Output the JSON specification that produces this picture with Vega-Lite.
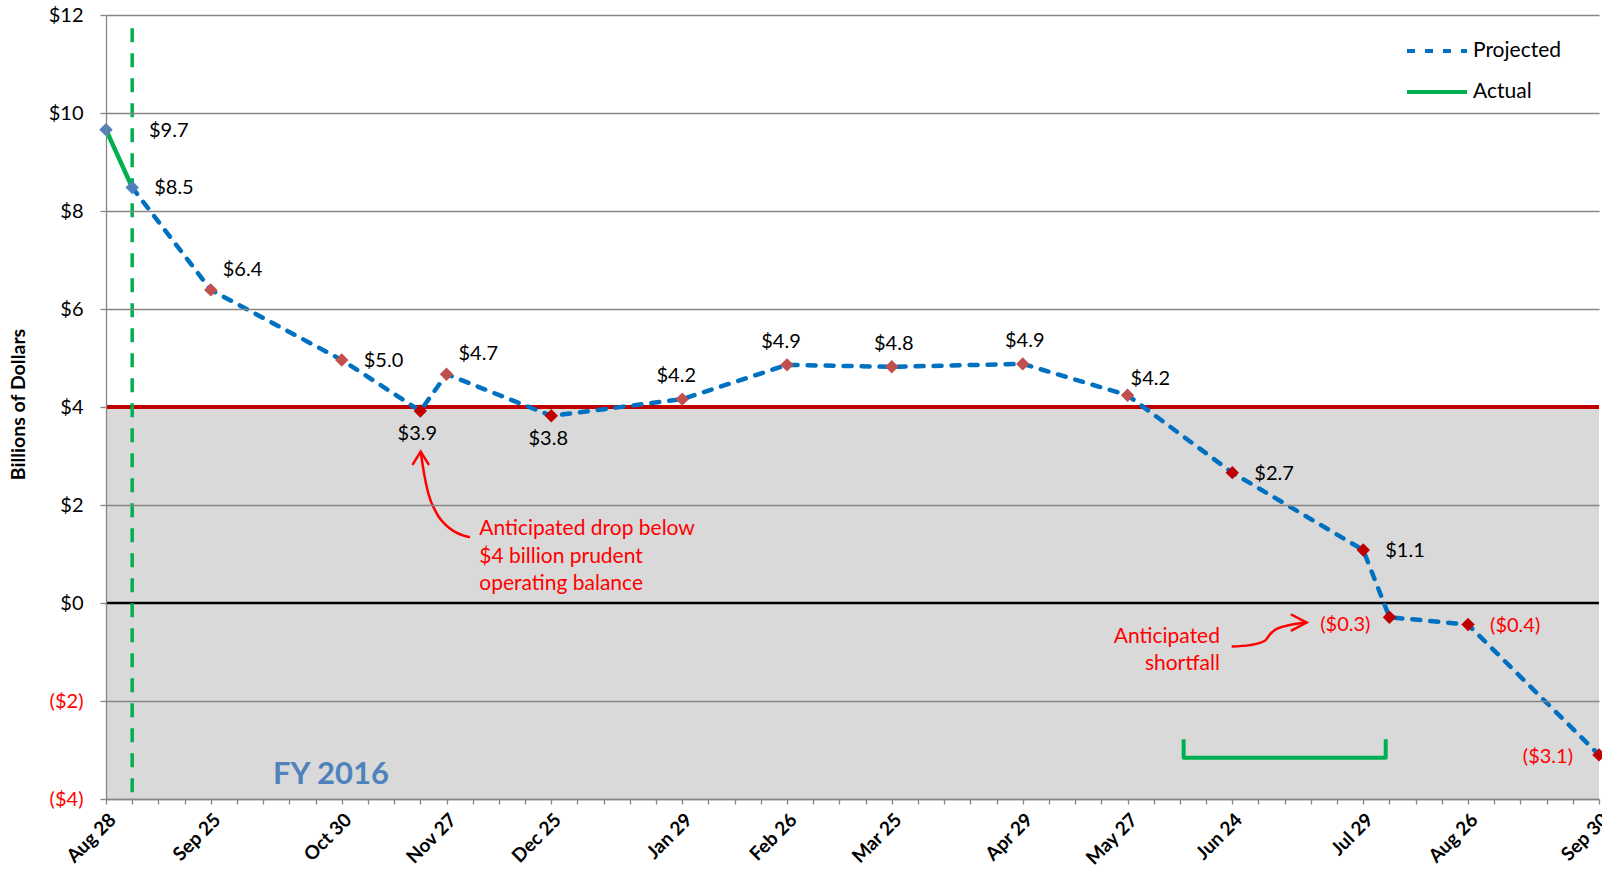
{
  "$schema": "https://vega.github.io/schema/vega-lite/v6.json",
  "width": 1493,
  "height": 784,
  "autosize": {"type": "none"},
  "padding": {"left": 106, "top": 15, "right": 3, "bottom": 72},
  "background": "white",
  "config": {"view": {"stroke": null}, "font": "Lato"},
  "datasets": {
    "points": [
      {"date": "2015-08-28", "v": 9.66},
      {"date": "2015-09-04", "v": 8.48},
      {"date": "2015-09-25", "v": 6.39},
      {"date": "2015-10-30", "v": 4.96},
      {"date": "2015-11-20", "v": 3.92},
      {"date": "2015-11-27", "v": 4.67},
      {"date": "2015-12-25", "v": 3.82},
      {"date": "2016-01-29", "v": 4.16},
      {"date": "2016-02-26", "v": 4.86},
      {"date": "2016-03-25", "v": 4.82},
      {"date": "2016-04-29", "v": 4.88},
      {"date": "2016-05-27", "v": 4.24},
      {"date": "2016-06-24", "v": 2.66},
      {"date": "2016-07-29", "v": 1.08},
      {"date": "2016-08-05", "v": -0.29},
      {"date": "2016-08-26", "v": -0.44},
      {"date": "2016-09-30", "v": -3.1}
    ],
    "lines": [
      {"date": "2015-08-28", "v": 9.66, "series": "Actual"},
      {"date": "2015-09-04", "v": 8.48, "series": "Actual"},
      {"date": "2015-09-04", "v": 8.48, "series": "Projected"},
      {"date": "2015-09-25", "v": 6.39, "series": "Projected"},
      {"date": "2015-10-30", "v": 4.96, "series": "Projected"},
      {"date": "2015-11-20", "v": 3.92, "series": "Projected"},
      {"date": "2015-11-27", "v": 4.67, "series": "Projected"},
      {"date": "2015-12-25", "v": 3.82, "series": "Projected"},
      {"date": "2016-01-29", "v": 4.16, "series": "Projected"},
      {"date": "2016-02-26", "v": 4.86, "series": "Projected"},
      {"date": "2016-03-25", "v": 4.82, "series": "Projected"},
      {"date": "2016-04-29", "v": 4.88, "series": "Projected"},
      {"date": "2016-05-27", "v": 4.24, "series": "Projected"},
      {"date": "2016-06-24", "v": 2.66, "series": "Projected"},
      {"date": "2016-07-29", "v": 1.08, "series": "Projected"},
      {"date": "2016-08-05", "v": -0.29, "series": "Projected"},
      {"date": "2016-08-26", "v": -0.44, "series": "Projected"},
      {"date": "2016-09-30", "v": -3.1, "series": "Projected"}
    ],
    "bracket": [
      {"date": "2016-06-11", "v": -2.78, "k": 1},
      {"date": "2016-06-11", "v": -3.16, "k": 2},
      {"date": "2016-08-04", "v": -3.16, "k": 3},
      {"date": "2016-08-04", "v": -2.78, "k": 4}
    ],
    "arrow1": [
      {"date": "2015-11-20T02:24:00Z", "v": 3.09},
      {"date": "2015-11-20T23:30:00Z", "v": 2.65},
      {"date": "2015-11-22T03:00:00Z", "v": 2.24},
      {"date": "2015-11-24T09:00:00Z", "v": 1.83},
      {"date": "2015-11-27T22:20:00Z", "v": 1.52},
      {"date": "2015-12-03T06:30:00Z", "v": 1.34}
    ],
    "arrow2": [
      {"date": "2016-06-23T20:00:00Z", "v": -0.89},
      {"date": "2016-06-28T17:00:00Z", "v": -0.86},
      {"date": "2016-07-02T17:30:00Z", "v": -0.77},
      {"date": "2016-07-04T01:30:00Z", "v": -0.64},
      {"date": "2016-07-05T09:30:00Z", "v": -0.55},
      {"date": "2016-07-09T09:30:00Z", "v": -0.45},
      {"date": "2016-07-13T21:00:00Z", "v": -0.40}
    ]
  },
  "layer": [
    {
      "data": {"values": [{}]},
      "mark": {"type": "rect", "color": "#D9D9D9"},
      "encoding": {
        "y": {"datum": 4, "type": "quantitative", "scale": {"domain": [-4, 12], "nice": false, "zero": false}},
        "y2": {"datum": -4}
      }
    },
    {
      "data": {"values": [{}]},
      "mark": {"type": "rule", "color": "#C00000", "strokeWidth": 4},
      "encoding": {
        "y": {"datum": 4, "type": "quantitative", "scale": {"domain": [-4, 12], "nice": false, "zero": false}}
      }
    },
    {
      "data": {"values": [{}]},
      "mark": {"type": "rule", "color": "black", "strokeWidth": 2.5},
      "encoding": {
        "y": {"datum": 0, "type": "quantitative", "scale": {"domain": [-4, 12], "nice": false, "zero": false}}
      }
    },
    {
      "data": {"values": [{}]},
      "mark": {"type": "rule", "color": "#00B050", "strokeWidth": 3.5, "strokeDash": [14, 11]},
      "encoding": {
        "x": {"datum": {"year": 2015, "month": 9, "date": 4, "utc": true}, "type": "temporal", "scale": {"type": "utc", "domain": [1440720000000, 1475193600000], "nice": false}},
        "y": {"datum": 11.73, "type": "quantitative", "scale": {"domain": [-4, 12], "nice": false, "zero": false}},
        "y2": {"datum": -3.88}
      }
    },
    {
      "data": {"name": "bracket"},
      "mark": {"type": "line", "color": "#00B050", "strokeWidth": 4, "strokeJoin": "round"},
      "encoding": {
        "x": {"field": "date", "type": "temporal", "scale": {"type": "utc", "domain": [1440720000000, 1475193600000], "nice": false}},
        "y": {"field": "v", "type": "quantitative", "scale": {"domain": [-4, 12], "nice": false, "zero": false}},
        "order": {"field": "k"}
      }
    },
    {
      "data": {"name": "arrow1"},
      "mark": {"type": "line", "color": "#FF0000", "strokeWidth": 2.5, "interpolate": "monotone"},
      "encoding": {
        "x": {"field": "date", "type": "temporal", "scale": {"type": "utc", "domain": [1440720000000, 1475193600000], "nice": false}},
        "y": {"field": "v", "type": "quantitative", "scale": {"domain": [-4, 12], "nice": false, "zero": false}}
      }
    },
    {
      "data": {"values": [{}]},
      "mark": {"type": "point", "shape": "M-1,1.6L0,0L1,1.6", "filled": false, "size": 243, "color": "#FF0000", "strokeWidth": 2.5, "opacity": 1, "strokeCap": "round"},
      "encoding": {
        "x": {"datum": {"year": 2015, "month": 11, "date": 20, "hours": 2, "minutes": 24, "utc": true}, "type": "temporal", "scale": {"type": "utc", "domain": [1440720000000, 1475193600000], "nice": false}},
        "y": {"datum": 3.09, "type": "quantitative", "scale": {"domain": [-4, 12], "nice": false, "zero": false}}
      }
    },
    {
      "data": {"name": "arrow2"},
      "mark": {"type": "line", "color": "#FF0000", "strokeWidth": 2.5, "interpolate": "monotone"},
      "encoding": {
        "x": {"field": "date", "type": "temporal", "scale": {"type": "utc", "domain": [1440720000000, 1475193600000], "nice": false}},
        "y": {"field": "v", "type": "quantitative", "scale": {"domain": [-4, 12], "nice": false, "zero": false}}
      }
    },
    {
      "data": {"values": [{}]},
      "mark": {"type": "point", "shape": "M-1.9,-1L0,0L-1.9,1", "filled": false, "size": 246, "color": "#FF0000", "strokeWidth": 2.5, "opacity": 1, "strokeCap": "round"},
      "encoding": {
        "x": {"datum": {"year": 2016, "month": 7, "date": 13, "hours": 21, "utc": true}, "type": "temporal", "scale": {"type": "utc", "domain": [1440720000000, 1475193600000], "nice": false}},
        "y": {"datum": -0.40, "type": "quantitative", "scale": {"domain": [-4, 12], "nice": false, "zero": false}}
      }
    },
    {
      "data": {"name": "lines"},
      "mark": {"type": "line", "strokeWidth": 4.5, "strokeCap": "round"},
      "encoding": {
        "x": {"field": "date", "type": "temporal", "scale": {"type": "utc", "domain": [1440720000000, 1475193600000], "nice": false}},
        "y": {"field": "v", "type": "quantitative", "scale": {"domain": [-4, 12], "nice": false, "zero": false}},
        "stroke": {
          "field": "series", "type": "nominal",
          "scale": {"domain": ["Projected", "Actual"], "range": ["#0070C0", "#00B050"]},
          "legend": {"title": null, "orient": "none", "legendX": 1314, "legendY": 19, "symbolType": "M-2,0L2,0", "symbolSize": 900, "symbolStrokeWidth": 4, "labelFont": "Lato", "labelFontSize": 21, "labelColor": "black", "labelOffset": 19, "rowPadding": 14, "padding": 0}
        },
        "strokeDash": {
          "field": "series", "type": "nominal",
          "scale": {"domain": ["Projected", "Actual"], "range": [[8, 10], [1, 0]]},
          "legend": {"title": null, "orient": "none", "legendX": 1314, "legendY": 19, "symbolType": "M-2,0L2,0", "symbolSize": 900, "symbolStrokeWidth": 4, "labelFont": "Lato", "labelFontSize": 21, "labelColor": "black", "labelOffset": 19, "rowPadding": 14, "padding": 0}
        }
      }
    },
    {
      "data": {"name": "points"},
      "mark": {"type": "point", "shape": "diamond", "filled": true, "size": 180, "opacity": 1},
      "encoding": {
        "x": {
          "field": "date", "type": "temporal",
          "scale": {"type": "utc", "domain": [1440720000000, 1475193600000], "nice": false},
          "axis": {
            "values": [1440720000000, 1441324800000, 1441929600000, 1442534400000, 1443139200000, 1443744000000, 1444348800000, 1444953600000, 1445558400000, 1446163200000, 1446768000000, 1447372800000, 1447977600000, 1448582400000, 1449187200000, 1449792000000, 1450396800000, 1451001600000, 1451606400000, 1452211200000, 1452816000000, 1453420800000, 1454025600000, 1454630400000, 1455235200000, 1455840000000, 1456444800000, 1457049600000, 1457654400000, 1458259200000, 1458864000000, 1459468800000, 1460073600000, 1460678400000, 1461283200000, 1461888000000, 1462492800000, 1463097600000, 1463702400000, 1464307200000, 1464912000000, 1465516800000, 1466121600000, 1466726400000, 1467331200000, 1467936000000, 1468540800000, 1469145600000, 1469750400000, 1470355200000, 1470960000000, 1471564800000, 1472169600000, 1472774400000, 1473379200000, 1473984000000, 1474588800000, 1475193600000],
            "tickCount": 200,
            "labelExpr": "utcmonth(time(datum.value) + 604800000) !== utcmonth(time(datum.value)) ? utcFormat(datum.value, '%b %d') : ''",
            "labelAngle": -45, "labelAlign": "right", "labelBaseline": "top",
            "labelFont": "Lato", "labelFontSize": 19, "labelFontWeight": "bold", "labelColor": "black",
            "labelPadding": 6, "labelDx": 3, "labelOverlap": false, "labelBound": false, "labelFlush": false,
            "tickSize": 5, "tickColor": "#868686", "tickWidth": 1.3,
            "domainColor": "#868686", "domainWidth": 1.3,
            "grid": false, "title": null, "zindex": 1
          }
        },
        "y": {
          "field": "v", "type": "quantitative",
          "scale": {"domain": [-4, 12], "nice": false, "zero": false},
          "axis": {
            "values": [-4, -2, 0, 2, 4, 6, 8, 10, 12],
            "title": "Billions of Dollars",
            "titleFont": "Lato", "titleFontSize": 19.5, "titleFontWeight": "bold", "titleColor": "black",
            "titleX": -88, "titleY": 389, "titleAngle": 270, "titleAlign": "center", "titleBaseline": "middle",
            "labelExpr": "format(datum.value, '($.0f') + (datum.value >= 0 ? '\u2009' : '')",
            "labelColor": {"condition": {"test": "datum.value < 0", "value": "#FF0000"}, "value": "black"},
            "labelFont": "Lato", "labelFontSize": 20, "labelPadding": 17,
            "tickSize": 6, "tickColor": "#868686", "tickWidth": 1.3,
            "domainColor": "#868686", "domainWidth": 1.3,
            "grid": true, "gridColor": "#868686", "gridWidth": 1.3,
            "gridOpacity": {"condition": {"test": "datum.value === 0 || datum.value === 4", "value": 0}, "value": 1},
            "zindex": 1
          }
        },
        "color": {
          "condition": [
            {"test": "datum.v > 8", "value": "#4F81BD"},
            {"test": "datum.v >= 4", "value": "#C0504D"}
          ],
          "value": "#C00000"
        }
      }
    },
    {
      "data": {"name": "points"},
      "transform": [{"filter": "datum.v === 9.66"}],
      "mark": {"type": "text", "font": "Lato", "fontSize": 20, "align": "left", "baseline": "middle", "dx": 43, "dy": 1},
      "encoding": {
        "x": {"field": "date", "type": "temporal", "scale": {"type": "utc", "domain": [1440720000000, 1475193600000], "nice": false}},
        "y": {"field": "v", "type": "quantitative", "scale": {"domain": [-4, 12], "nice": false, "zero": false}},
        "text": {"field": "v", "type": "quantitative", "format": "($.1f"},
        "color": {"value": "black"}
      }
    },
    {
      "data": {"name": "points"},
      "transform": [{"filter": "indexof([8.48, 4.96, 2.66, 1.08, -0.44], datum.v) >= 0"}],
      "mark": {"type": "text", "font": "Lato", "fontSize": 20, "align": "left", "baseline": "middle", "dx": 22, "dy": 1},
      "encoding": {
        "x": {"field": "date", "type": "temporal", "scale": {"type": "utc", "domain": [1440720000000, 1475193600000], "nice": false}},
        "y": {"field": "v", "type": "quantitative", "scale": {"domain": [-4, 12], "nice": false, "zero": false}},
        "text": {"field": "v", "type": "quantitative", "format": "($.1f"},
        "color": {"condition": {"test": "datum.v < 0", "value": "#FF0000"}, "value": "black"}
      }
    },
    {
      "data": {"name": "points"},
      "transform": [{"filter": "indexof([6.39, 4.67], datum.v) >= 0"}],
      "mark": {"type": "text", "font": "Lato", "fontSize": 20, "align": "left", "baseline": "middle", "dx": 12, "dy": -20},
      "encoding": {
        "x": {"field": "date", "type": "temporal", "scale": {"type": "utc", "domain": [1440720000000, 1475193600000], "nice": false}},
        "y": {"field": "v", "type": "quantitative", "scale": {"domain": [-4, 12], "nice": false, "zero": false}},
        "text": {"field": "v", "type": "quantitative", "format": "($.1f"},
        "color": {"value": "black"}
      }
    },
    {
      "data": {"name": "points"},
      "transform": [{"filter": "datum.v === 4.24"}],
      "mark": {"type": "text", "font": "Lato", "fontSize": 20, "align": "left", "baseline": "middle", "dx": 3, "dy": -16},
      "encoding": {
        "x": {"field": "date", "type": "temporal", "scale": {"type": "utc", "domain": [1440720000000, 1475193600000], "nice": false}},
        "y": {"field": "v", "type": "quantitative", "scale": {"domain": [-4, 12], "nice": false, "zero": false}},
        "text": {"field": "v", "type": "quantitative", "format": "($.1f"},
        "color": {"value": "black"}
      }
    },
    {
      "data": {"name": "points"},
      "transform": [{"filter": "indexof([4.16, 4.86], datum.v) >= 0"}],
      "mark": {"type": "text", "font": "Lato", "fontSize": 20, "align": "center", "baseline": "middle", "dx": -6, "dy": -23},
      "encoding": {
        "x": {"field": "date", "type": "temporal", "scale": {"type": "utc", "domain": [1440720000000, 1475193600000], "nice": false}},
        "y": {"field": "v", "type": "quantitative", "scale": {"domain": [-4, 12], "nice": false, "zero": false}},
        "text": {"field": "v", "type": "quantitative", "format": "($.1f"},
        "color": {"value": "black"}
      }
    },
    {
      "data": {"name": "points"},
      "transform": [{"filter": "indexof([4.82, 4.88], datum.v) >= 0"}],
      "mark": {"type": "text", "font": "Lato", "fontSize": 20, "align": "center", "baseline": "middle", "dx": 2, "dy": -23},
      "encoding": {
        "x": {"field": "date", "type": "temporal", "scale": {"type": "utc", "domain": [1440720000000, 1475193600000], "nice": false}},
        "y": {"field": "v", "type": "quantitative", "scale": {"domain": [-4, 12], "nice": false, "zero": false}},
        "text": {"field": "v", "type": "quantitative", "format": "($.1f"},
        "color": {"value": "black"}
      }
    },
    {
      "data": {"name": "points"},
      "transform": [{"filter": "indexof([3.92, 3.82], datum.v) >= 0"}],
      "mark": {"type": "text", "font": "Lato", "fontSize": 20, "align": "center", "baseline": "middle", "dx": -3, "dy": 23},
      "encoding": {
        "x": {"field": "date", "type": "temporal", "scale": {"type": "utc", "domain": [1440720000000, 1475193600000], "nice": false}},
        "y": {"field": "v", "type": "quantitative", "scale": {"domain": [-4, 12], "nice": false, "zero": false}},
        "text": {"field": "v", "type": "quantitative", "format": "($.1f"},
        "color": {"value": "black"}
      }
    },
    {
      "data": {"name": "points"},
      "transform": [{"filter": "datum.v === -0.29"}],
      "mark": {"type": "text", "font": "Lato", "fontSize": 20, "align": "right", "baseline": "middle", "dx": -19, "dy": 8},
      "encoding": {
        "x": {"field": "date", "type": "temporal", "scale": {"type": "utc", "domain": [1440720000000, 1475193600000], "nice": false}},
        "y": {"field": "v", "type": "quantitative", "scale": {"domain": [-4, 12], "nice": false, "zero": false}},
        "text": {"field": "v", "type": "quantitative", "format": "($.1f"},
        "color": {"value": "#FF0000"}
      }
    },
    {
      "data": {"name": "points"},
      "transform": [{"filter": "datum.v === -3.1"}],
      "mark": {"type": "text", "font": "Lato", "fontSize": 20, "align": "right", "baseline": "middle", "dx": -26, "dy": 2},
      "encoding": {
        "x": {"field": "date", "type": "temporal", "scale": {"type": "utc", "domain": [1440720000000, 1475193600000], "nice": false}},
        "y": {"field": "v", "type": "quantitative", "scale": {"domain": [-4, 12], "nice": false, "zero": false}},
        "text": {"field": "v", "type": "quantitative", "format": "($.1f"},
        "color": {"value": "#FF0000"}
      }
    },
    {
      "data": {"values": [{}]},
      "mark": {"type": "text", "font": "Lato", "fontSize": 31, "fontWeight": "bold", "color": "#4F81BD", "align": "center", "baseline": "alphabetic"},
      "encoding": {
        "x": {"datum": {"year": 2015, "month": 10, "date": 27, "hours": 3, "utc": true}, "type": "temporal", "scale": {"type": "utc", "domain": [1440720000000, 1475193600000], "nice": false}},
        "y": {"datum": -3.69, "type": "quantitative", "scale": {"domain": [-4, 12], "nice": false, "zero": false}},
        "text": {"value": "FY 2016"}
      }
    },
    {
      "data": {"values": [{}]},
      "mark": {"type": "text", "font": "Lato", "fontSize": 21, "color": "#FF0000", "align": "left", "baseline": "middle", "lineHeight": 27.5},
      "encoding": {
        "x": {"datum": {"year": 2015, "month": 12, "date": 5, "hours": 18, "utc": true}, "type": "temporal", "scale": {"type": "utc", "domain": [1440720000000, 1475193600000], "nice": false}},
        "y": {"datum": 1.51, "type": "quantitative", "scale": {"domain": [-4, 12], "nice": false, "zero": false}},
        "text": {"value": ["Anticipated drop below", "$4 billion prudent", "operating balance"]}
      }
    },
    {
      "data": {"values": [{}]},
      "mark": {"type": "text", "font": "Lato", "fontSize": 21, "color": "#FF0000", "align": "right", "baseline": "middle", "lineHeight": 27},
      "encoding": {
        "x": {"datum": {"year": 2016, "month": 6, "date": 20, "hours": 17, "utc": true}, "type": "temporal", "scale": {"type": "utc", "domain": [1440720000000, 1475193600000], "nice": false}},
        "y": {"datum": -0.69, "type": "quantitative", "scale": {"domain": [-4, 12], "nice": false, "zero": false}},
        "text": {"value": ["Anticipated", "shortfall"]}
      }
    }
  ]
}
